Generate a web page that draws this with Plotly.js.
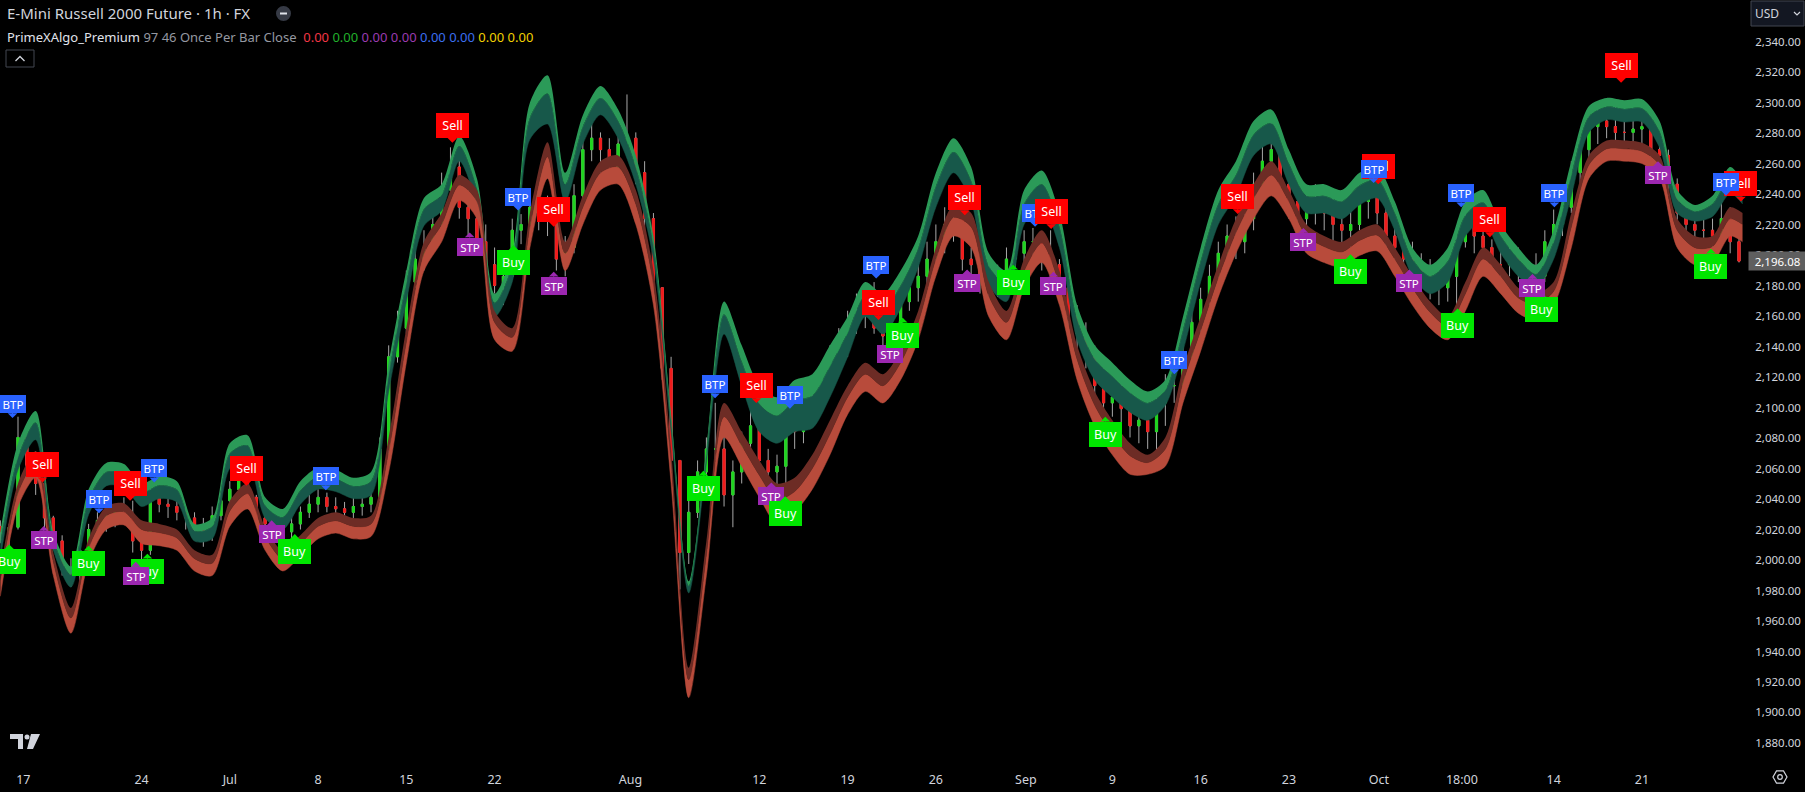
<!DOCTYPE html>
<html><head><meta charset="utf-8">
<script src="https://cdn.plot.ly/plotly-3.0.1.min.js"></script>
<style>html,body{margin:0;padding:0;background:#000;overflow:hidden}#chart{width:1805px;height:792px}</style>
</head><body><div id="chart"></div>
<script>
const FONT = '"Noto Sans","Open Sans",sans-serif';

// ---- time axis (trading-day index, Jun 17 session ~ 0) ----
const dateTickPos  = [-1.7,5,10,15,20,25,32.7,40,45,50,55.1,60,65,70,75.1,79.8,85,90];
const dateTickText = ['17','24','Jul','8','15','22','Aug','12','19','26','Sep','9','16','23','Oct','18:00','14','21'];
const priceTicks = [1880,1900,1920,1940,1960,1980,2000,2020,2040,2060,2080,2100,2120,2140,2160,2180,2200,2220,2240,2260,2280,2300,2320,2340];

// ---- indicator bands (one sample per trading day, last one at 95.7) ----
const bandDay = [-3,-2,-1,0,1,2,3,4,5,6,7,8,9,10,11,12,13,14,15,16,17,18,19,20,21,22,23,24,25,26,27,28,29,30,31,32,33,34,35,36,37,38,39,40,41,42,43,44,45,46,47,48,49,50,51,52,53,54,55,56,57,58,59,60,61,62,63,64,65,66,67,68,69,70,71,72,73,74,75,76,77,78,79,80,81,82,83,84,85,86,87,88,89,90,91,92,93,94,95,95.7];
const greenOuter = [2018.4,2076.6,2097.7,2018.4,1995.8,2046.4,2063.7,2063.0,2050.2,2054.7,2051.7,2023.7,2027.5,2076.6,2081.9,2041.1,2033.5,2051.7,2060.7,2059.2,2053.9,2057.7,2129.4,2189.8,2237.4,2246.5,2278.2,2250.3,2174.7,2201.2,2300.0,2318.0,2254.0,2291.8,2311.0,2295.6,2265.4,2212.5,2095.5,1986.0,2072.8,2169.5,2140.8,2114.3,2106.8,2118.1,2121.9,2140.8,2159.6,2182.3,2174.7,2189.8,2212.5,2254.0,2276.7,2257.8,2201.2,2189.8,2242.7,2255.5,2227.6,2167.2,2140.8,2129.4,2118.1,2110.6,2118.1,2159.6,2204.9,2242.7,2261.6,2288.0,2295.6,2269.1,2246.5,2246.5,2242.7,2254.0,2257.8,2235.2,2204.9,2193.6,2204.9,2235.2,2242.7,2220.1,2204.9,2193.6,2216.3,2261.6,2297.8,2303.1,2301.6,2302.4,2288.0,2242.7,2232.9,2238.9,2257.8,2248.7];
const greenMid = [2011.2,2067.6,2090.2,2013.6,1990.4,2039.7,2057.7,2056.9,2044.1,2049.0,2046.2,2019.2,2022.1,2069.9,2075.2,2035.7,2028.1,2045.6,2055.0,2053.5,2048.5,2051.7,2121.9,2181.7,2230.2,2239.5,2271.6,2243.3,2168.7,2193.6,2290.0,2306.0,2246.5,2284.2,2303.0,2288.0,2257.8,2206.5,2090.9,1983.0,2069.2,2161.0,2130.2,2102.3,2094.7,2104.5,2107.7,2127.2,2149.1,2173.2,2164.2,2179.9,2204.4,2245.0,2267.6,2248.7,2192.7,2181.7,2233.6,2246.5,2218.5,2158.1,2131.7,2120.4,2109.7,2103.0,2111.5,2150.6,2195.9,2233.6,2252.5,2279.0,2286.5,2260.1,2238.9,2238.9,2235.2,2245.6,2249.7,2227.6,2197.4,2186.1,2195.9,2226.1,2234.5,2212.5,2197.4,2187.6,2208.7,2252.5,2290.9,2297.4,2295.9,2296.3,2281.1,2236.7,2228.7,2233.5,2250.9,2242.7];
const greenInner = [2000.3,2059.2,2078.9,2006.4,1982.2,2029.8,2048.6,2047.9,2035.1,2040.3,2038.1,2012.4,2013.9,2060.0,2065.3,2027.5,2020.0,2036.6,2046.4,2044.9,2040.3,2042.6,2110.6,2169.5,2219.3,2229.1,2261.6,2232.9,2159.6,2182.3,2276.0,2286.0,2235.2,2272.9,2292.0,2276.7,2246.5,2197.4,2084.1,1978.4,2063.7,2148.3,2114.3,2084.1,2076.6,2084.1,2086.4,2106.8,2133.2,2159.6,2148.3,2164.9,2192.1,2231.4,2254.0,2235.2,2180.0,2169.5,2220.1,2232.9,2204.9,2144.5,2118.1,2106.8,2097.0,2091.7,2101.5,2137.0,2182.3,2220.1,2238.9,2265.4,2272.9,2246.5,2227.6,2227.6,2223.8,2232.9,2237.4,2216.3,2186.1,2174.7,2182.3,2212.5,2222.3,2201.2,2186.1,2178.5,2197.4,2238.9,2280.5,2288.8,2287.3,2287.3,2270.6,2227.6,2222.3,2225.3,2240.4,2233.6];
const redInner = [1993.5,2050.2,2071.3,2004.9,1968.6,2013.9,2035.1,2037.3,2026.0,2023.7,2020.0,2006.4,2003.4,2038.8,2050.2,2021.5,2006.4,2016.2,2027.5,2031.3,2027.5,2029.0,2080.4,2152.1,2208.7,2227.6,2252.5,2242.7,2163.4,2152.1,2227.6,2274.0,2208.7,2238.9,2261.6,2265.4,2242.7,2189.8,2072.8,1929.3,2012.4,2103.0,2084.1,2065.3,2050.2,2053.9,2069.0,2091.7,2114.3,2129.4,2121.9,2137.0,2163.4,2204.9,2232.9,2227.6,2182.3,2163.4,2197.4,2216.3,2189.8,2140.8,2110.6,2091.7,2076.6,2069.0,2080.4,2125.7,2159.6,2193.6,2223.8,2246.5,2261.6,2242.7,2220.1,2212.5,2208.7,2216.3,2220.1,2204.9,2186.1,2169.5,2159.6,2182.3,2204.9,2193.6,2178.5,2174.7,2182.3,2227.6,2265.4,2275.2,2275.2,2273.7,2265.4,2223.8,2212.5,2212.5,2231.4,2227.6];
const redMid = [1986.6,2044.1,2064.3,1998.8,1962.0,2007.9,2029.0,2031.6,2020.0,2018.0,2014.5,2000.9,1997.9,2032.2,2043.5,2015.4,2000.9,2010.7,2022.1,2025.8,2022.1,2023.6,2071.3,2143.0,2201.2,2220.1,2245.9,2235.2,2155.9,2146.1,2218.5,2264.5,2201.2,2231.4,2254.0,2257.8,2233.6,2180.8,2063.8,1921.5,2003.3,2094.0,2075.1,2055.6,2039.6,2044.9,2060.0,2082.6,2106.8,2121.9,2114.3,2129.4,2155.9,2197.4,2224.7,2218.5,2173.2,2155.9,2189.8,2207.8,2180.8,2131.7,2101.5,2082.6,2068.4,2063.9,2072.8,2116.6,2150.6,2185.2,2214.8,2237.4,2252.5,2235.2,2212.5,2205.6,2202.1,2209.6,2213.1,2197.4,2178.5,2162.5,2153.6,2174.7,2197.4,2186.1,2171.9,2167.8,2176.3,2218.5,2259.3,2269.7,2269.7,2268.2,2259.3,2216.3,2204.9,2205.6,2223.8,2220.1];
const redOuter = [1976.2,2035.1,2053.9,1989.8,1952.0,1998.8,2020.0,2023.0,2010.9,2009.4,2006.4,1992.8,1989.8,2022.2,2033.5,2006.4,1992.8,2002.6,2013.9,2017.7,2013.9,2015.4,2057.7,2129.4,2189.8,2208.7,2235.9,2223.8,2144.5,2137.0,2204.9,2250.3,2189.8,2220.1,2242.7,2246.5,2220.1,2167.2,2050.2,1909.7,1989.8,2080.4,2061.5,2041.1,2023.7,2031.3,2046.4,2069.0,2095.5,2110.6,2103.0,2118.1,2144.5,2186.1,2212.5,2204.9,2159.6,2144.5,2178.5,2195.1,2167.2,2118.1,2087.9,2069.0,2056.2,2056.2,2061.5,2103.0,2137.0,2172.5,2201.2,2223.8,2238.9,2223.8,2201.2,2195.1,2192.1,2199.7,2202.7,2186.1,2167.2,2152.1,2144.5,2163.4,2186.1,2174.7,2161.9,2157.4,2167.2,2204.9,2250.3,2261.6,2261.6,2260.1,2250.3,2204.9,2193.6,2195.1,2212.5,2208.7];

// ---- price bars (12h bars from day -3) ----
const firstOpen = 2022.0;
const candleHigh = [2026.0,2023.8,2094.0,2084.2,2071.3,2057.8,2029.0,2016.2,2001.1,2012.5,2023.7,2031.3,2035.1,2036.6,2041.1,2038.9,2018.5,2051.7,2046.4,2042.7,2041.1,2035.1,2031.3,2027.6,2035.1,2044.2,2051.7,2059.3,2056.2,2042.7,2031.3,2029.1,2027.6,2029.1,2035.1,2042.7,2046.4,2044.2,2041.1,2038.1,2042.7,2042.7,2046.4,2080.4,2140.8,2163.5,2189.9,2205.0,2216.3,2227.6,2254.1,2270.7,2265.4,2242.7,2239.0,2220.1,2205.0,2195.2,2223.9,2226.9,2239.0,2242.7,2239.0,2226.0,2212.5,2246.5,2276.7,2288.0,2280.5,2276.7,2284.3,2305.4,2280.5,2261.6,2227.6,2178.6,2133.3,2065.3,2042.7,2065.3,2080.4,2103.1,2084.2,2065.3,2084.2,2099.3,2091.7,2072.9,2069.1,2095.5,2097.0,2103.1,2114.4,2125.7,2140.8,2152.1,2163.5,2174.8,2178.6,2182.3,2154.4,2152.1,2174.8,2186.1,2197.4,2208.8,2220.1,2231.4,2235.2,2225.0,2205.0,2201.2,2197.4,2193.7,2205.0,2208.8,2216.3,2217.8,2212.5,2216.3,2197.4,2182.3,2167.2,2155.9,2140.8,2125.7,2118.2,2118.2,2110.6,2103.1,2106.8,2110.6,2121.9,2119.7,2140.8,2163.5,2178.6,2193.7,2208.8,2220.1,2225.4,2231.4,2254.1,2276.7,2291.8,2269.2,2257.8,2246.5,2242.7,2246.5,2242.7,2239.0,2235.2,2231.4,2242.7,2254.1,2250.3,2235.2,2220.1,2212.5,2208.8,2201.2,2197.4,2189.9,2193.7,2216.3,2231.4,2227.6,2220.1,2210.3,2205.0,2208.8,2205.0,2197.4,2201.2,2216.3,2229.9,2239.0,2261.6,2276.7,2291.8,2295.6,2295.6,2297.8,2291.8,2288.0,2291.8,2284.3,2272.9,2269.2,2250.3,2235.2,2231.4,2227.6,2223.9,2237.5,2231.4,2212.5];
const candleLow = [2011.0,2009.4,2020.0,2053.9,2042.7,2021.5,2006.4,1989.8,1982.3,1986.0,2006.4,2016.2,2018.5,2021.5,2023.7,2004.9,1998.8,2003.4,2031.3,2027.6,2026.0,2020.0,2013.9,2008.7,2012.5,2026.0,2035.1,2042.7,2035.1,2023.7,2018.5,2013.9,2012.5,2013.9,2020.0,2027.6,2031.3,2031.3,2027.6,2026.0,2027.6,2029.1,2031.3,2038.9,2069.1,2129.5,2148.4,2178.6,2189.9,2201.2,2216.3,2237.5,2223.9,2212.5,2199.7,2186.1,2174.8,2167.2,2184.0,2207.2,2212.5,2216.3,2212.5,2189.9,2186.1,2201.2,2235.2,2261.6,2254.1,2246.5,2254.1,2265.4,2246.5,2216.3,2171.0,2118.2,2057.8,1980.7,1997.4,2027.6,2054.0,2065.3,2035.1,2021.5,2050.2,2069.1,2057.8,2051.7,2042.7,2044.2,2072.9,2076.6,2088.0,2099.3,2110.6,2125.7,2133.3,2148.4,2152.1,2148.4,2140.8,2140.8,2146.0,2163.5,2169.5,2178.6,2189.9,2201.2,2208.8,2189.9,2182.3,2174.8,2171.0,2172.5,2186.1,2191.4,2195.2,2197.4,2189.9,2187.6,2171.0,2152.1,2137.0,2125.7,2106.8,2091.7,2094.0,2088.0,2080.4,2076.6,2072.9,2069.1,2088.0,2103.1,2110.6,2129.5,2148.4,2163.5,2178.6,2193.7,2197.4,2201.2,2216.3,2235.2,2254.1,2235.2,2223.9,2216.3,2216.3,2220.1,2216.3,2208.8,2205.0,2202.7,2216.3,2223.9,2220.1,2205.0,2193.7,2188.4,2182.3,2174.8,2171.0,2167.2,2169.5,2167.2,2205.0,2201.2,2193.7,2186.1,2182.3,2186.1,2182.3,2184.6,2172.5,2182.3,2205.0,2212.5,2227.6,2246.5,2261.6,2272.9,2276.7,2272.9,2272.9,2269.2,2272.9,2261.6,2257.8,2239.0,2220.1,2212.5,2208.8,2205.0,2202.7,2208.8,2201.2,2195.2];
const candleClose = [2018.5,2021.5,2080.4,2061.5,2050.2,2027.6,2012.5,1993.6,1989.8,2006.4,2020.0,2026.0,2029.1,2031.3,2029.1,2012.5,2006.4,2042.7,2036.6,2035.1,2031.3,2027.6,2020.0,2016.2,2029.1,2038.9,2046.4,2054.0,2041.1,2027.6,2023.7,2020.0,2018.5,2023.7,2031.3,2036.6,2041.1,2035.1,2033.6,2031.3,2035.1,2036.6,2041.1,2072.9,2133.3,2152.1,2182.3,2197.4,2205.0,2220.1,2242.7,2257.8,2231.4,2223.9,2208.8,2193.7,2180.1,2186.1,2216.3,2220.1,2231.4,2235.2,2223.9,2197.4,2205.0,2239.0,2269.2,2276.7,2269.2,2257.8,2272.9,2276.7,2254.1,2223.9,2178.6,2125.7,2065.3,2004.9,2031.3,2057.8,2072.9,2072.9,2042.7,2057.8,2076.6,2088.0,2065.3,2057.8,2061.5,2088.0,2084.2,2095.5,2106.8,2118.2,2133.3,2140.8,2155.9,2163.5,2167.2,2152.1,2146.9,2148.4,2169.5,2178.6,2186.1,2197.4,2208.8,2220.1,2223.9,2197.4,2193.7,2186.1,2182.3,2186.1,2197.4,2201.2,2208.8,2208.8,2201.2,2193.7,2178.6,2159.7,2148.4,2133.3,2114.4,2103.1,2106.8,2099.3,2088.0,2091.7,2084.2,2103.1,2114.4,2114.4,2133.3,2155.9,2171.0,2186.1,2201.2,2212.5,2208.8,2223.9,2246.5,2261.6,2269.2,2246.5,2235.2,2223.9,2231.4,2235.2,2227.6,2220.1,2216.3,2220.1,2235.2,2239.0,2227.6,2212.5,2205.0,2197.4,2193.7,2186.1,2182.3,2178.6,2186.1,2208.8,2220.1,2212.5,2205.0,2193.7,2193.7,2201.2,2189.9,2189.9,2186.1,2208.8,2220.1,2231.4,2254.1,2269.2,2284.3,2288.0,2284.3,2280.5,2280.5,2282.7,2284.3,2269.2,2265.4,2246.5,2227.6,2220.1,2216.3,2216.3,2212.5,2223.9,2208.8,2196.08];
const lastPrice = 2196.08;

// ---- signal labels ----
const labelKind = ['Buy','BTP','Sell','STP','Buy','BTP','Sell','Buy','STP','BTP','Sell','STP','Buy','BTP','Sell','STP','Buy','BTP','Sell','STP','Buy','BTP','Sell','STP','Buy','BTP','BTP','Sell','STP','Buy','Sell','STP','Buy','BTP','Sell','STP','Buy','BTP','Sell','STP','Buy','Sell','BTP','STP','Buy','BTP','Sell','Buy','STP','BTP','Sell','STP','Buy','Sell','BTP'];
const labelDay = [-2.5,-2.31,-0.61,-0.54,2.0,2.59,4.35,5.33,4.67,5.72,10.94,12.37,13.68,15.44,22.61,23.59,26.07,26.33,28.35,28.35,36.83,37.49,39.83,40.68,41.46,41.73,46.62,46.75,47.40,48.12,51.64,51.77,54.38,55.62,56.53,56.66,59.6,63.51,67.1,70.82,73.49,75.06,74.80,76.82,79.56,79.76,81.39,84.32,83.8,85.04,88.82,90.91,93.91,95.61,94.76];
const labelPrice = [2010.2,2093.2,2050.9,2022.3,2009.4,2030.6,2038.9,2004.1,1998.8,2050.9,2048.7,2026.0,2017.0,2045.7,2273.7,2214.8,2206.5,2229.2,2218.6,2189.1,2058.5,2106.1,2103.0,2050.9,2041.9,2099.3,2184.6,2157.4,2144.6,2158.9,2226.1,2190.6,2193.7,2218.6,2217.1,2189.1,2094.0,2121.9,2226.9,2217.8,2200.5,2246.5,2247.3,2190.6,2165.0,2231.4,2211.8,2175.5,2187.6,2231.4,2313.0,2261.6,2204.2,2235.2,2239.0];

// ---------------- build ----------------
const candleDay = candleClose.map((_, i) => -3 + 0.5 * i);
const candleOpen = candleClose.map((c, i) => i === 0 ? firstOpen : candleClose[i - 1]);
const bodyHigh = candleClose.map((c, i) => Math.max(c, candleOpen[i]));
const bodyLow = candleClose.map((c, i) => Math.min(c, candleOpen[i]));

function band(y, fill, color) {
  return {type:'scatter', mode:'lines', x:bandDay, y:y, hoverinfo:'skip',
    line:{shape:'spline', smoothing:0.8, width:0.5, color:color || 'rgba(0,0,0,0)'},
    fill: fill ? 'tonexty' : 'none', fillcolor: color || 'rgba(0,0,0,0)'};
}
const GL = '#2b9a58', GD = '#17584a', RD = '#6d2c25', RL = '#b84b3b';
const data = [
  band(greenOuter, false, null),
  band(greenMid, true, GL),
  band(greenInner, true, GD),
  band(redInner, false, null),
  band(redMid, true, RD),
  band(redOuter, true, RL),
  {type:'candlestick', x:candleDay, open:candleOpen, high:candleHigh, low:candleLow, close:candleClose,
   increasing:{line:{color:'#a8a8a8', width:1}, fillcolor:'#a8a8a8'},
   decreasing:{line:{color:'#a8a8a8', width:1}, fillcolor:'#a8a8a8'}, whiskerwidth:0, hoverinfo:'skip'},
  {type:'candlestick', x:candleDay, open:candleOpen, high:bodyHigh, low:bodyLow, close:candleClose,
   increasing:{line:{color:'#1fd51f', width:1}, fillcolor:'#1fd51f'},
   decreasing:{line:{color:'#f01c1c', width:1}, fillcolor:'#f01c1c'}, whiskerwidth:0, hoverinfo:'skip'}
];

const PW = 1748, PH = 762;
const px = v => v / PW, py = v => 1 - v / PH;

const STYLE = {
  Sell:{bg:'#ff0000', w:33, h:25, up:false, fs:12.5},
  Buy: {bg:'#00e600', w:33, h:25, up:true,  fs:12.5},
  BTP: {bg:'#2962ff', w:26, h:18, up:false, fs:11.5},
  STP: {bg:'#9c27b0', w:26, h:18, up:true,  fs:11.5}
};
const annotations = labelKind.map((k, i) => {
  const s = STYLE[k];
  return {x:labelDay[i], y:labelPrice[i], xref:'x', yref:'y', text:k,
    showarrow:true, arrowhead:1, arrowsize:1.6, arrowwidth:1, arrowcolor:s.bg, standoff:0,
    ax:0, ay: s.up ? (s.h/2 + 5) : -(s.h/2 + 5), axref:'pixel', ayref:'pixel',
    bgcolor:s.bg, bordercolor:s.bg, borderwidth:0, borderpad:0, width:s.w, height:s.h,
    font:{family:FONT, size:s.fs, color:'#ffffff'}};
});

const valColors = ['#f23645','#22b02c','#9c3bb0','#9c3bb0','#3b6ff0','#3b6ff0','#f2d100','#f2d100'];
const legendText = '<span style="color:#e0e3eb">PrimeXAlgo_Premium</span> <span style="color:#9598a1">97 46 Once Per Bar Close</span>  ' +
  valColors.map(c => '<span style="color:' + c + '">0.00</span>').join(' ');

annotations.push(
  {xref:'paper', yref:'paper', x:0, y:1, xanchor:'left', yanchor:'middle', xshift:5, yshift:-13, showarrow:false,
   text:'E-Mini Russell 2000 Future · 1h · FX', font:{family:FONT, size:15, color:'#d1d4dc'}},
  {xref:'paper', yref:'paper', x:0, y:1, xanchor:'left', yanchor:'middle', xshift:5, yshift:-37, showarrow:false,
   text:legendText, font:{family:FONT, size:13, color:'#d1d4dc'}},
  {xref:'paper', yref:'paper', x:px(1767), y:py(13.5), xanchor:'center', yanchor:'middle', showarrow:false,
   text:'USD', font:{family:FONT, size:12, color:'#d1d4dc'}},
  {xref:'paper', yref:'y', x:1, y:lastPrice, xanchor:'left', yanchor:'middle', showarrow:false,
   text:'2,196.08', bgcolor:'#5f5f5f', borderpad:0, width:57, height:18,
   font:{family:FONT, size:11.5, color:'#ffffff'}}
);

const hex = [];
for (let k = 0; k < 6; k++) { const a = Math.PI / 3 * k; hex.push([1780 + 7 * Math.cos(a), 777 + 7 * Math.sin(a)]); }
const shapes = [
  {type:'circle', xref:'paper', yref:'paper', x0:px(276), x1:px(291), y0:py(21), y1:py(6), fillcolor:'#363a45', line:{width:0}},
  {type:'line', xref:'paper', yref:'paper', x0:px(280), x1:px(287), y0:py(13.5), y1:py(13.5), line:{color:'#e0e3eb', width:2}},
  {type:'rect', xref:'paper', yref:'paper', x0:px(6), x1:px(34), y0:py(67), y1:py(50), line:{color:'#434651', width:1}},
  {type:'path', xref:'paper', yref:'paper', path:`M${px(15.5)},${py(61)} L${px(20)},${py(56.5)} L${px(24.5)},${py(61)}`, line:{color:'#d1d4dc', width:1.3}},
  {type:'rect', xref:'paper', yref:'paper', x0:px(1751), x1:px(1804), y0:py(26), y1:py(1), fillcolor:'#131722', line:{color:'#434651', width:1}, layer:'below'},
  {type:'path', xref:'paper', yref:'paper', path:`M${px(1794)},${py(12)} L${px(1797)},${py(15)} L${px(1800)},${py(12)}`, line:{color:'#d1d4dc', width:1.2}},
  {type:'path', xref:'paper', yref:'paper', path:'M' + hex.map(p => px(p[0]) + ',' + py(p[1])).join(' L') + ' Z', line:{color:'#d1d4dc', width:1.2}},
  {type:'circle', xref:'paper', yref:'paper', x0:px(1777.7), x1:px(1782.3), y0:py(779.3), y1:py(774.7), line:{color:'#d1d4dc', width:1.2}},
  {type:'rect', xref:'paper', yref:'paper', x0:px(10), x1:px(23), y0:py(739), y1:py(734), fillcolor:'#d1d4dc', line:{width:0}},
  {type:'rect', xref:'paper', yref:'paper', x0:px(18), x1:px(23), y0:py(749), y1:py(734), fillcolor:'#d1d4dc', line:{width:0}},
  {type:'circle', xref:'paper', yref:'paper', x0:px(24.5), x1:px(29.5), y0:py(739.5), y1:py(734.5), fillcolor:'#d1d4dc', line:{width:0}},
  {type:'path', xref:'paper', yref:'paper', path:`M${px(31)},${py(734)} L${px(40)},${py(734)} L${px(33)},${py(749)} L${px(27)},${py(749)} Z`, fillcolor:'#d1d4dc', line:{width:0}}
];

const layout = {
  width:1805, height:792, paper_bgcolor:'#000000', plot_bgcolor:'#000000',
  margin:{l:0, r:57, t:0, b:30, pad:0}, showlegend:false, hovermode:false, boxgap:0.65,
  xaxis:{range:[-3.02, 96.01], showgrid:false, zeroline:false, showline:false, rangeslider:{visible:false},
    tickmode:'array', tickvals:dateTickPos, ticktext:dateTickText, ticks:'outside', ticklen:6, tickcolor:'rgba(0,0,0,0)',
    tickfont:{family:FONT, size:12.5, color:'#d1d4dc'}},
  yaxis:{side:'right', range:[1867.5, 2367.35], showgrid:false, zeroline:false, showline:false,
    tickmode:'array', tickvals:priceTicks, tickformat:',.2f', ticks:'outside', ticklen:4, tickcolor:'rgba(0,0,0,0)',
    tickfont:{family:FONT, size:11.5, color:'#d1d4dc'}},
  annotations:annotations, shapes:shapes
};
Plotly.newPlot('chart', data, layout, {displayModeBar:false, staticPlot:true});
</script></body></html>
